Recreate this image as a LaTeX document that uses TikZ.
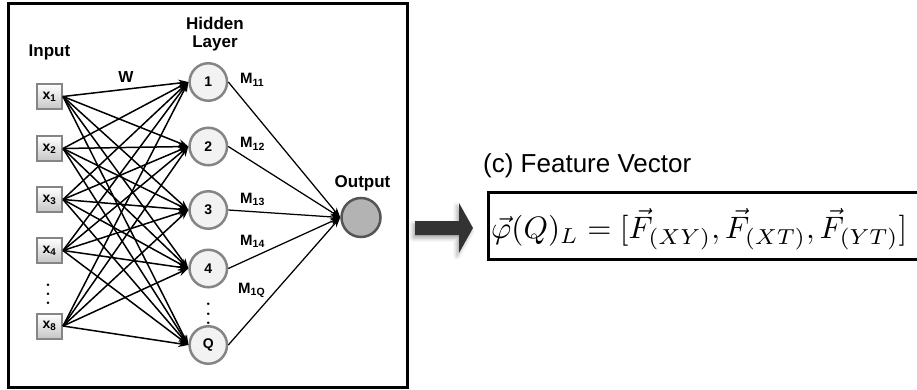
\documentclass[tikz,border=0pt]{standalone}
\usepackage[no-math]{fontspec}
\usepackage{amsmath,graphicx}
\usetikzlibrary{arrows.meta,shadows.blur}
\newfontfamily\helv{Liberation Sans}
\definecolor{bordacinza}{HTML}{858585}
\definecolor{neurofill}{HTML}{F2F2F2}
\definecolor{saidafill}{HTML}{B3B3B3}
\definecolor{saidaborda}{HTML}{555555}
\definecolor{setacinza}{HTML}{333333}

\begin{document}
\begin{tikzpicture}[x=1pt,y=-1pt,
  entrada/.style={draw=bordacinza, line width=2pt, top color=white, bottom color=gray!45,
                  minimum size=25pt, inner sep=0pt, font=\helv\bfseries\fontsize{14}{14}\selectfont},
  neuronio/.style={circle, draw=bordacinza, fill=neurofill, line width=2.5pt,
                   minimum size=37.5pt, inner sep=0pt, font=\helv\bfseries\fontsize{14}{14}\selectfont},
  saida/.style={neuronio, draw=saidaborda, fill=saidafill, minimum size=39pt},
  fio/.style={-{Stealth[length=10pt,width=7pt]}, line width=1.5pt},
  fio2/.style={-{Stealth[length=10pt,width=7pt]}, line width=1.25pt},
  rotulo/.style={font=\helv\bfseries\fontsize{17}{18}\selectfont, align=center, inner sep=0pt},
  peso/.style={font=\helv\bfseries\fontsize{15}{15}\selectfont, anchor=base west, inner sep=0pt},
  pontos/.style={inner sep=0pt}
]
\useasboundingbox (0,0) rectangle (917,390);
\clip (0,0) rectangle (917,390);

% painel da rede
\draw[line width=3pt] (8.5,3.5) rectangle (407.5,387.5);

\node[entrada] (x1) at (49.5,96.5) {x\textsubscript{1}};
\node[entrada] (x2) at (49.5,148.5) {x\textsubscript{2}};
\node[entrada] (x3) at (49.5,199.5) {x\textsubscript{3}};
\node[entrada] (x4) at (49.5,250.5) {x\textsubscript{4}};
\node[entrada] (x8) at (49.5,326) {x\textsubscript{8}};
\node[pontos] (dx) at (48,287.5) {\scalebox{2.5}[2.3]{$\vdots$}};

\node[neuronio] (h1) at (208.3,82) {1};
\node[neuronio] (h2) at (208.3,146.5) {2};
\node[neuronio] (h3) at (208.3,210) {3};
\node[neuronio] (h4) at (208.3,268.5) {4};
\node[neuronio] (hQ) at (208.3,345) {Q};
\node[pontos] (dh) at (208.3,307) {\scalebox{2.5}[2.3]{$\vdots$}};

\node[saida] (out) at (361,217.5) {};

\node[rotulo, anchor=base] (lin) at (49.5,57) {Input};
\node[rotulo, anchor=south] (lhid) at (215,51) {Hidden\\Layer};
\node[rotulo, anchor=base] (lout) at (362.5,187) {Output};
\node[rotulo, anchor=base, font=\helv\bfseries\fontsize{16}{16}\selectfont] (lw) at (126,82.5) {W};

\node[peso] (m11) at (240,84) {M\textsubscript{11}};
\node[peso] (m12) at (240,148) {M\textsubscript{12}};
\node[peso] (m13) at (240,203) {M\textsubscript{13}};
\node[peso] (m14) at (240,245) {M\textsubscript{14}};
\node[peso] (m1q) at (238,293) {M\textsubscript{1Q}};

% todas as entradas ligadas a todos os neuronios
\foreach \i in {1,2,3,4,8}
  \foreach \j in {1,2,3,4,Q}
    \draw[fio] (x\i.east) -- (h\j.west);
\foreach \j in {1,2,3,4,Q}
  \draw[fio2] (h\j.east) -- (out.west);

% seta grossa para o vetor
\fill[setacinza, blur shadow={shadow xshift=-2pt, shadow yshift=-3pt, shadow blur radius=4pt, shadow opacity=35}]
  (415,221) -- (459,221) -- (459,203) -- (473,228) -- (459,253) -- (459,235) -- (415,235) -- cycle;

\node[anchor=base west, inner sep=0pt, font=\helv\fontsize{26}{30}\selectfont] (ftit) at (483,172) {(c) Feature Vector};
\node[draw, line width=3pt, anchor=west, minimum width=460pt, minimum height=67pt] (fbox) at (486.5,225.5) {};
\node[anchor=west, inner sep=0pt] (phi) at (491,229)
  {\resizebox{416pt}{!}{$\vec{\varphi}(Q)_L = [\vec{F}_{(XY)}, \vec{F}_{(XT)}, \vec{F}_{(YT)}]$}};
\end{tikzpicture}
\end{document}
